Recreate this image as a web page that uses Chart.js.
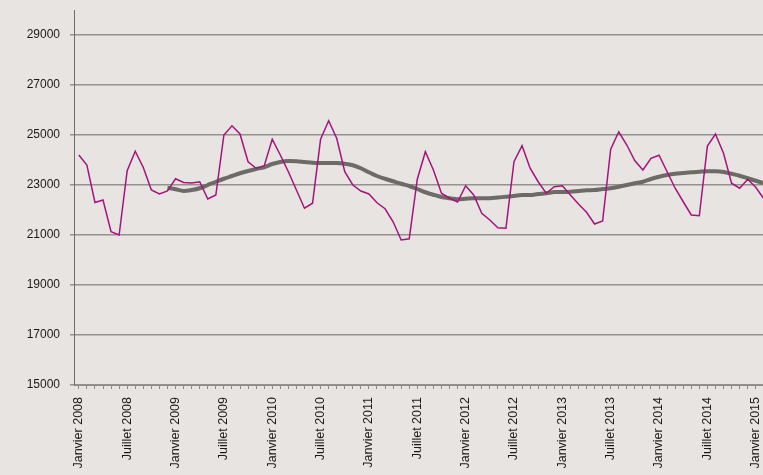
<!DOCTYPE html>
<html>
<head>
<meta charset="utf-8">
<script src="https://cdn.jsdelivr.net/npm/chart.js@4.4.0/dist/chart.umd.min.js"></script>
<style>
  html, body { margin: 0; padding: 0; background: #e7e4e1; overflow: hidden; }
  #chart { display: block; }
</style>
</head>
<body>
<canvas id="chart" width="763" height="475"></canvas>
<script>
// months from Janvier 2008 (index 0) to Fevrier 2015 (index 85)
const startYear = 2008;

// monthly values (magenta)
const monthly = [
  24200, 23800, 22300, 22400, 21130, 21000, 23570, 24350, 23700, 22800, 22640, 22760,
  23250, 23100, 23080, 23130, 22440, 22600, 25000, 25370, 25040, 23930, 23670, 23760,
  24830, 24200, 23530, 22800, 22070, 22270, 24830, 25570, 24870, 23530, 23000, 22760,
  22640, 22290, 22050, 21530, 20800, 20850, 23230, 24330, 23600, 22670, 22470, 22320,
  22970, 22600, 21870, 21600, 21290, 21270, 23930, 24570, 23670, 23130, 22670, 22930,
  22970, 22600, 22240, 21910, 21440, 21560, 24430, 25130, 24600, 23970, 23600, 24070,
  24190, 23530, 22870, 22330, 21800, 21770, 24560, 25040, 24270, 23070, 22870, 23230,
  22910, 22450
];

// 12 month moving average (gray), starts in december 2008
const movingAvg = [
  null, null, null, null, null, null, null, null, null, null, null, 22890,
  22830, 22760, 22800, 22870, 23000, 23130, 23250, 23360, 23470, 23560, 23640, 23710,
  23840, 23920, 23960, 23950, 23920, 23890, 23880, 23880, 23880, 23850, 23790, 23670,
  23510, 23360, 23250, 23150, 23050, 22960, 22840, 22710, 22610, 22520, 22470, 22430,
  22450, 22470, 22470, 22470, 22500, 22530, 22560, 22600, 22600, 22640, 22670, 22720,
  22720, 22730, 22760, 22790, 22800, 22840, 22870, 22930, 23000, 23070, 23130, 23240,
  23330, 23400, 23450, 23480, 23510, 23530, 23550, 23550, 23520, 23450, 23370, 23270,
  23170, 23070
];

const yTicks = [15000, 17000, 19000, 21000, 23000, 25000, 27000, 29000];

function toPoints(arr) {
  const pts = [];
  arr.forEach((v, i) => { if (v !== null) pts.push({ x: i, y: v }); });
  return pts;
}

function monthLabel(i) {
  const year = startYear + Math.floor(i / 12);
  if (i % 12 === 0) return 'Janvier ' + year;
  if (i % 12 === 6) return 'Juillet ' + year;
  return '';
}

const ctx = document.getElementById('chart').getContext('2d');
new Chart(ctx, {
  type: 'line',
  data: {
    datasets: [
      {
        data: toPoints(monthly),
        borderColor: '#a3157c',
        borderWidth: 1.5,
        pointRadius: 0,
        tension: 0
      },
      {
        data: toPoints(movingAvg),
        borderColor: '#6d6b67',
        borderWidth: 4,
        pointRadius: 0,
        tension: 0.3
      }
    ]
  },
  options: {
    responsive: false,
    animation: false,
    layout: { padding: { top: 10, right: 0, left: 0, bottom: 0 } },
    plugins: { legend: { display: false }, tooltip: { enabled: false } },
    scales: {
      x: {
        type: 'linear',
        min: -0.6,
        max: 84.9,
        afterFit: function(scale) {
          scale.height = 90;
          scale.paddingLeft = 0;
          scale.paddingRight = 0;
        },
        border: { color: '#8e8b88', width: 1 },
        grid: { drawOnChartArea: false, tickLength: 4, color: '#8e8b88' },
        ticks: {
          stepSize: 1,
          includeBounds: false,
          autoSkip: false,
          maxTicksLimit: 200,
          minRotation: 90,
          maxRotation: 90,
          padding: 8,
          color: '#1a1a1a',
          font: { family: 'Liberation Sans, Arial, sans-serif', size: 12.5 },
          callback: function(value) { return monthLabel(value); }
        }
      },
      y: {
        min: 15000,
        max: 30000,
        afterFit: function(scale) {
          scale.width = 74;
          scale.paddingTop = 0;
          scale.paddingBottom = 0;
        },
        afterBuildTicks: function(scale) {
          scale.ticks = yTicks.map(v => ({ value: v }));
        },
        border: { color: '#6f6d6a', width: 1 },
        grid: { color: '#94918e', lineWidth: 1.5, tickLength: 4 },
        ticks: {
          padding: 10,
          color: '#1a1a1a',
          font: { family: 'Liberation Sans, Arial, sans-serif', size: 12 },
          callback: function(value) { return String(value); }
        }
      }
    }
  }
});
</script>
</body>
</html>
